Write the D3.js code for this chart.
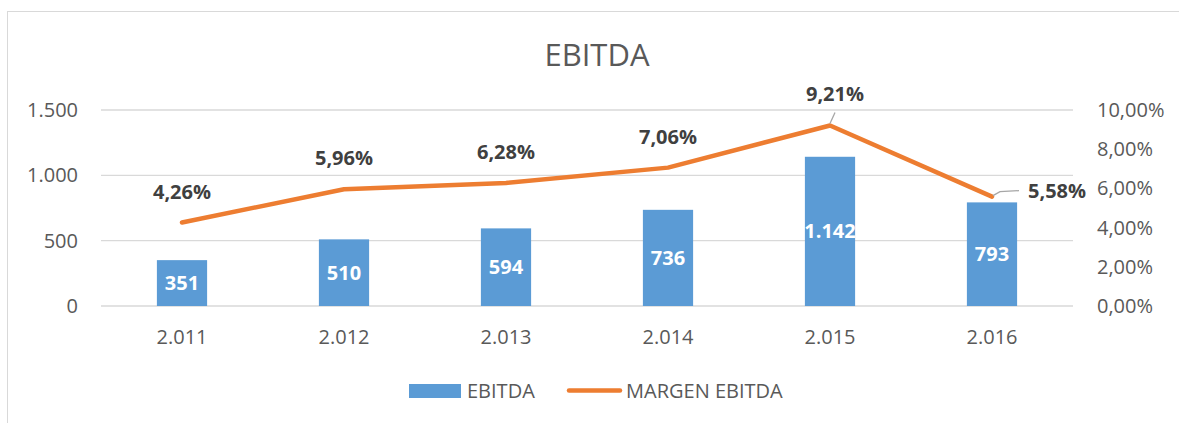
<!DOCTYPE html>
<html>
<head>
<meta charset="utf-8">
<script src="https://cdn.jsdelivr.net/npm/d3@7"></script>
<style>
	body { margin: 0; background: #fff; }
	text { font-family: "Open Sans", sans-serif; }
</style>
</head>
<body>
<svg id="chart" width="1179" height="423"></svg>
<script>
// data
const years = ["2.011", "2.012", "2.013", "2.014", "2.015", "2.016"]
const ebitda = [351, 510, 594, 736, 1142, 793]
const margen = [4.26, 5.96, 6.28, 7.06, 9.21, 5.58]
const leftTicks = [0, 500, 1000, 1500]
const rightTicks = [0, 2, 4, 6, 8, 10]

const fmtInt = d3.formatLocale({decimal: ",", thousands: ".", grouping: [3], currency: ["", ""]}).format(",d")
const fmtPct = function(d, n) { return d.toFixed(n).replace(".", ",") + "%" }

var svg = d3.select("#chart"),
	plotLeft = 101,
	plotRight = 1073,
	plotTop = 110,
	plotBottom = 306

// chart border
svg.append("rect")
	.attr("x", 7.5).attr("y", 11.5)
	.attr("width", 1200).attr("height", 500)
	.attr("fill", "none")
	.attr("stroke", "#d9d9d9")

svg.append("text")
	.attr("x", 597).attr("y", 66)
	.attr("text-anchor", "middle")
	.attr("font-size", "31px")
	.attr("fill", "#595959")
	.text("EBITDA")

var xScale = d3.scaleBand().domain(years).range([plotLeft, plotRight]),
	yScale = d3.scaleLinear().domain([0, 1500]).range([plotBottom, plotTop]),
	y2Scale = d3.scaleLinear().domain([0, 10]).range([plotBottom, plotTop])

var barW = xScale.step() * 0.31
var cx = function(d) { return xScale(d) + xScale.bandwidth() / 2 }

// gridlines
svg.append("g")
	.selectAll("line")
	.data(leftTicks)
	.enter().append("line")
	.attr("x1", plotLeft).attr("x2", plotRight)
	.attr("y1", function(d) { return yScale(d) }).attr("y2", function(d) { return yScale(d) })
	.attr("stroke", "#d9d9d9")
	.attr("stroke-width", 1.3)

// left axis
svg.append("g")
	.attr("transform", "translate(78,0)")
	.call(d3.axisLeft(yScale).tickValues(leftTicks).tickSize(0).tickPadding(0).tickFormat(fmtInt))
	.call(function(g) { g.select(".domain").remove() })
	.selectAll("text")
	.attr("font-size", "20px").attr("fill", "#595959").attr("font-family", "Open Sans")

// right axis
svg.append("g")
	.attr("transform", "translate(1097,0)")
	.call(d3.axisRight(y2Scale).tickValues(rightTicks).tickSize(0).tickPadding(0).tickFormat(function(d) { return fmtPct(d, 2) }))
	.call(function(g) { g.select(".domain").remove() })
	.selectAll("text")
	.attr("font-size", "20px").attr("fill", "#595959").attr("font-family", "Open Sans")

// x axis
svg.append("g")
	.attr("transform", "translate(0," + plotBottom + ")")
	.call(d3.axisBottom(xScale).tickSize(0).tickPadding(24))
	.call(function(g) { g.select(".domain").remove() })
	.selectAll("text")
	.attr("font-size", "20px").attr("fill", "#595959").attr("font-family", "Open Sans")

// bars
svg.append("g")
	.selectAll("rect")
	.data(years)
	.enter().append("rect")
	.attr("x", function(d) { return cx(d) - barW / 2 })
	.attr("width", barW)
	.attr("y", function(d, i) { return yScale(ebitda[i]) })
	.attr("height", function(d, i) { return plotBottom - yScale(ebitda[i]) })
	.attr("fill", "#5b9bd5")

svg.append("g")
	.selectAll("text")
	.data(years)
	.enter().append("text")
	.attr("x", cx)
	.attr("y", function(d, i) { return (yScale(ebitda[i]) + plotBottom) / 2 + 7 })
	.attr("text-anchor", "middle")
	.attr("font-size", "20px")
	.attr("font-weight", "bold")
	.attr("fill", "#fff")
	.text(function(d, i) { return fmtInt(ebitda[i]) })

// margin line
var line = d3.line()
	.x(function(d, i) { return cx(years[i]) })
	.y(function(d) { return y2Scale(d) })

svg.append("path")
	.datum(margen)
	.attr("d", line)
	.attr("fill", "none")
	.attr("stroke", "#ed7d31")
	.attr("stroke-width", 4.5)
	.attr("stroke-linejoin", "round")
	.attr("stroke-linecap", "round")

// leader lines (2015 and 2016 labels)
var px4 = cx(years[4]), py4 = y2Scale(margen[4])
svg.append("path")
	.attr("d", "M" + px4 + "," + (py4 - 2) + "L" + (px4 + 5) + "," + (py4 - 13))
	.attr("stroke", "#a6a6a6").attr("stroke-width", 1.3).attr("fill", "none")
var px5 = cx(years[5]), py5 = y2Scale(margen[5])
svg.append("path")
	.attr("d", "M" + (px5 + 1) + "," + (py5 - 1) + "L" + (px5 + 8) + "," + (py5 - 5) + "L" + (px5 + 27) + "," + (py5 - 6))
	.attr("stroke", "#a6a6a6").attr("stroke-width", 1.3).attr("fill", "none")

// margin labels
svg.append("g")
	.selectAll("text")
	.data(margen)
	.enter().append("text")
	.attr("x", function(d, i) { return i === 5 ? cx(years[i]) + 36 : cx(years[i]) + (i === 4 ? 5 : 0) })
	.attr("y", function(d, i) { return i === 5 ? y2Scale(d) + 1 : y2Scale(d) - 24 })
	.attr("text-anchor", function(d, i) { return i === 5 ? "start" : "middle" })
	.attr("font-size", "20px")
	.attr("font-weight", "bold")
	.attr("fill", "#404040")
	.text(function(d) { return fmtPct(d, 2) })

// legend
svg.append("rect").attr("x", 409).attr("y", 384).attr("width", 52).attr("height", 14).attr("fill", "#5b9bd5")
svg.append("text").attr("x", 467).attr("y", 398).attr("font-size", "20px").attr("fill", "#595959").text("EBITDA")
svg.append("line").attr("x1", 569).attr("x2", 620).attr("y1", 390.5).attr("y2", 390.5)
	.attr("stroke", "#ed7d31").attr("stroke-width", 4.5).attr("stroke-linecap", "round")
svg.append("text").attr("x", 626).attr("y", 398).attr("font-size", "20px").attr("fill", "#595959").text("MARGEN EBITDA")
</script>
</body>
</html>
